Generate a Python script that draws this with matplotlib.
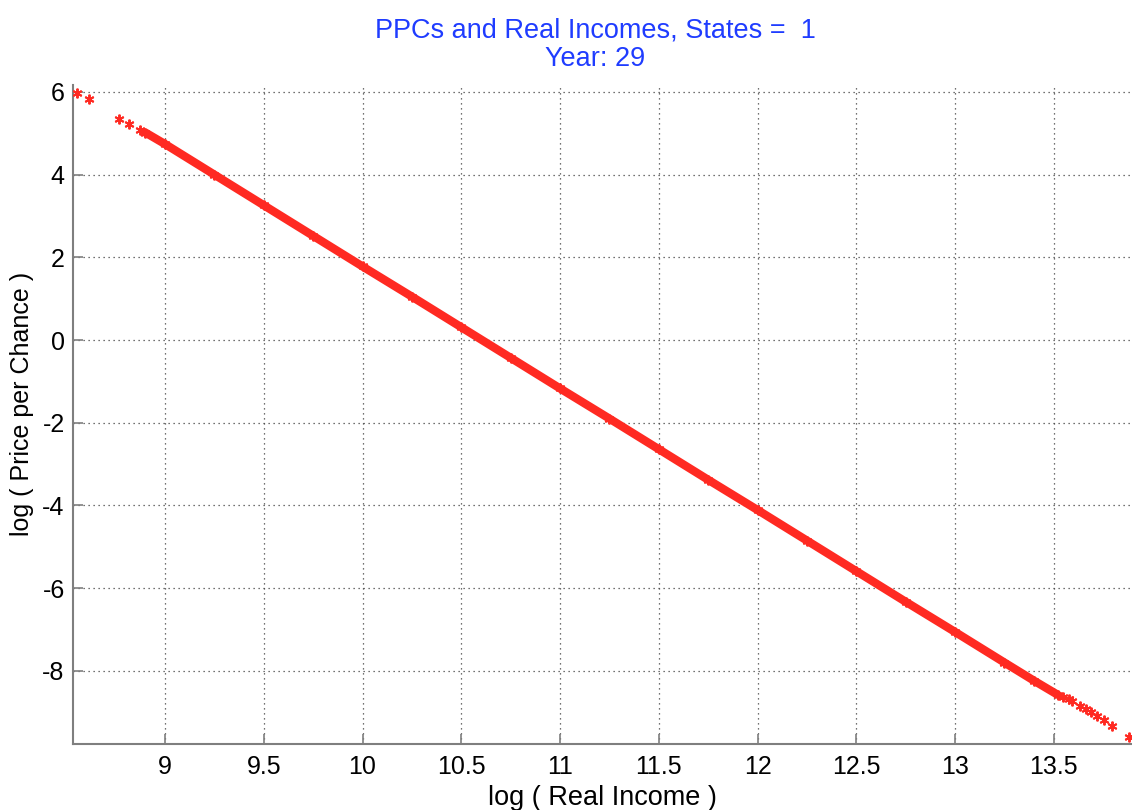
import numpy as np
import matplotlib.pyplot as plt

plt.rcParams['font.family'] = ['Liberation Sans', 'DejaVu Sans']
plt.rcParams['axes.unicode_minus'] = False

#==================== data
# dense band of points (drawn as a thick stroke of stars)
band_x = [8.90, 9.00, 9.25, 9.50, 9.75, 10.00, 10.25, 10.50, 10.75,
          11.00, 11.25, 11.50, 11.75, 12.00, 12.25, 12.50, 12.75,
          13.00, 13.25, 13.40, 13.52]
band_y = [5.02, 4.74, 4.00, 3.26, 2.52, 1.78, 1.05, 0.31, -0.43,
          -1.17, -1.90, -2.64, -3.38, -4.11, -4.85, -5.59, -6.33,
          -7.06, -7.80, -8.24, -8.58]

# isolated stars at both ends of the band
tail_x = [8.554, 8.615, 8.767, 8.818, 8.873,
          13.547, 13.575, 13.592, 13.633, 13.663, 13.689, 13.720,
          13.754, 13.795, 13.881]
tail_y = [5.98, 5.83, 5.35, 5.23, 5.09,
          -8.63, -8.68, -8.74, -8.85, -8.93, -9.00, -9.10,
          -9.20, -9.33, -9.60]

x_ticks = [9, 9.5, 10, 10.5, 11, 11.5, 12, 12.5, 13, 13.5]
y_ticks = [-8, -6, -4, -2, 0, 2, 4, 6]

red = '#ff2a22'
asterisk = (6, 2, 0)

#==================== figure
fig = plt.figure(figsize=(11.32, 8.10), dpi=100)
ax = fig.add_axes([0.0645, 0.0815, 0.9355, 0.8136])

# core band
ax.plot(band_x, band_y, '-', color=red, lw=6.0, solid_capstyle='round', zorder=3)
ax.plot(band_x, band_y, ls='none', marker=asterisk, color=red, ms=7, mew=1.4, zorder=3)
ax.plot(tail_x, tail_y, ls='none', marker=asterisk, color=red, ms=7, mew=1.4, zorder=3)

ax.set_xlim(8.534, 13.896)
ax.set_ylim(-9.77, 6.17)
ax.set_xticks(x_ticks)
ax.set_xticklabels(['9', '9.5', '10', '10.5', '11', '11.5', '12', '12.5', '13', '13.5'])
ax.set_yticks(y_ticks)
ax.set_yticklabels([str(v) for v in y_ticks])

ax.grid(True, linestyle=(0, (1, 3)), color='#444444', lw=0.9)
ax.set_axisbelow(True)

for side in ['top', 'right']:
  ax.spines[side].set_visible(False)
for side in ['left', 'bottom']:
  ax.spines[side].set_color('#7f7f7f')
  ax.spines[side].set_linewidth(1.5)

ax.tick_params(direction='in', length=7, width=1.2, color='#7f7f7f',
               labelsize=18)
ax.tick_params(axis='x', pad=8)
ax.tick_params(axis='y', pad=6)

ax.set_xlabel('log ( Real Income )', fontsize=19.5, labelpad=4.5)
ax.set_ylabel('log ( Price per Chance )', fontsize=18)
ax.yaxis.set_label_coords(-0.037, 0.516)
ax.set_title('PPCs and Real Incomes, States =  1\nYear: 29',
             color='#1f3cff', fontsize=19.5, pad=14, linespacing=1.1, x=0.4934)

fig.savefig('out.png', dpi=100)
